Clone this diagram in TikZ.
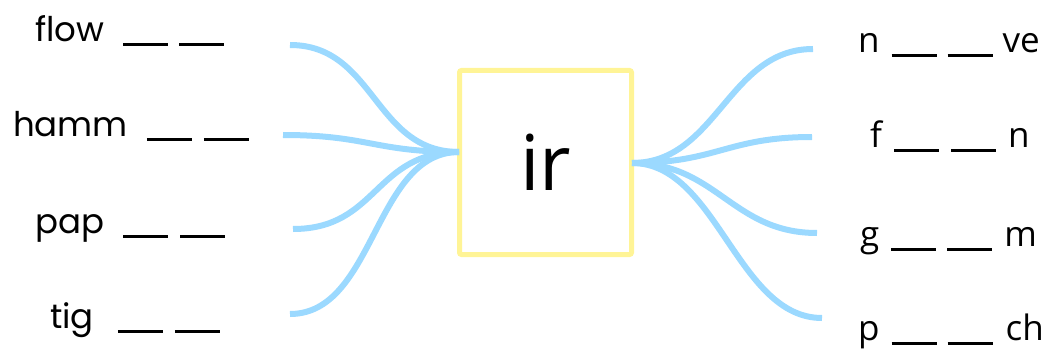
\documentclass[tikz,border=0pt]{standalone}
\usepackage{fontspec}
\setmainfont{Poppins}
\newfontfamily\sidefont{Open Sans}
\usetikzlibrary{positioning}
\definecolor{linkblue}{RGB}{155,217,255}
\definecolor{boxyellow}{RGB}{255,244,150}
\newcommand{\gap}{\rule[-4.5pt]{45pt}{3pt}}

\begin{document}
\begin{tikzpicture}
	[
		x=1pt, y=-1pt,
		W/.style = {anchor=base west, inner sep=0pt, font=\fontsize{34}{40}\selectfont},
		R/.style = {anchor=base west, inner sep=0pt, font=\sidefont\fontsize{35}{40}\selectfont},
		link/.style = {draw=linkblue, line width=6pt},
	]
	\useasboundingbox (0,0) rectangle (1047,350);

	% centre box
	\node[draw=boxyellow, line width=5pt, rounded corners=2pt, fill=white,
		minimum width=172pt, minimum height=184pt,
		font=\sidefont\fontsize{77}{80}\selectfont] (ir) at (545.5,162.5) {ir};
	\coordinate (hl) at (459,152);
	\coordinate (hr) at (632,163);

	% left words
	\node[W] (w1) at ( 35, 42) {flow\hspace{19pt}\gap\hspace{11pt}\gap};
	\node[W] (w2) at ( 13,137) {hamm\hspace{19pt}\gap\hspace{12pt}\gap};
	\node[W] (w3) at ( 35,233) {pap\hspace{19pt}\gap\hspace{12pt}\gap};
	\node[W] (w4) at ( 50,328) {tig\hspace{24pt}\gap\hspace{12pt}\gap};

	% right words
	\node[R] (r1) at (858, 53) {n\hspace{12pt}\gap\hspace{11pt}\gap\hspace{10pt}ve};
	\node[R] (r2) at (870,148) {f\hspace{12pt}\gap\hspace{12pt}\gap\hspace{12pt}n};
	\node[R] (r3) at (860,246) {g\hspace{12pt}\gap\hspace{11pt}\gap\hspace{12pt}m};
	\node[R] (r4) at (858,340) {p\hspace{12pt}\gap\hspace{11pt}\gap\hspace{13pt}ch};

	% free ends
	\coordinate (a1) at (290, 45);
	\coordinate (a2) at (283,135);
	\coordinate (a3) at (293,229);
	\coordinate (a4) at (290,314);
	\coordinate (b1) at (813, 49);
	\coordinate (b2) at (812,137);
	\coordinate (b3) at (817,233);
	\coordinate (b4) at (822,318);

	\foreach \from in {a1,a2,a3,a4}
	\draw[link] (\from) .. controls +(85,0) and +(-85,0) .. (hl);
	\foreach \to in {b1,b2,b3,b4}
	\draw[link] (hr) .. controls +(85,0) and +(-85,0) .. (\to);

\end{tikzpicture}
\end{document}
